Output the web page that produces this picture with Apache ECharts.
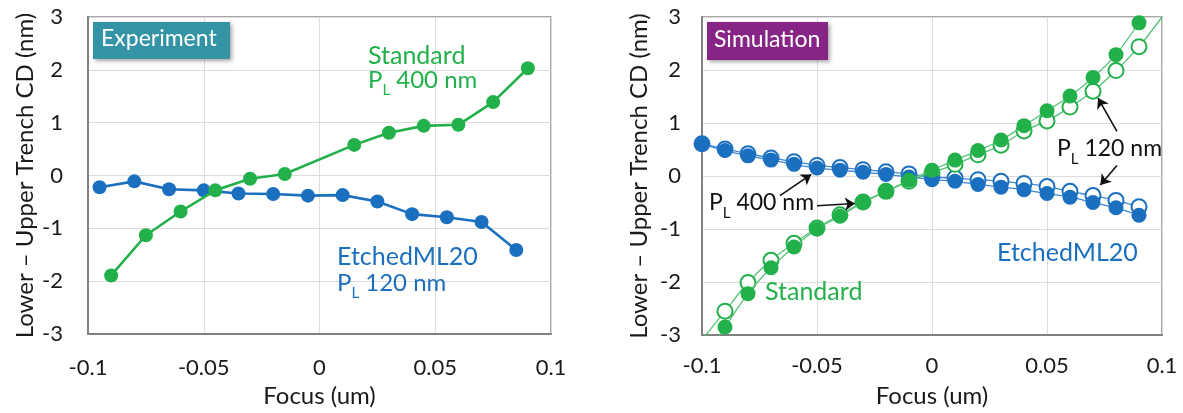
<!DOCTYPE html>
<html>
<head>
<meta charset="utf-8">
<script src="https://cdn.jsdelivr.net/npm/echarts@6/dist/echarts.min.js"></script>
<style>
html,body{margin:0;padding:0;background:#fff;}
#chart{width:1183px;height:413px;}
</style>
</head>
<body>
<div id="chart"></div>
<script>
// ---------- Data ----------
// Experiment panel
const expStdFocus = [-0.09, -0.075, -0.06, -0.045, -0.03, -0.015, 0.015, 0.03, 0.045, 0.06, 0.075, 0.09];
const expStdCD    = [-1.89, -1.13, -0.68, -0.28, -0.06, 0.03, 0.58, 0.81, 0.94, 0.96, 1.39, 2.03];
const expEtchFocus = [-0.095, -0.08, -0.065, -0.05, -0.035, -0.02, -0.005, 0.01, 0.025, 0.04, 0.055, 0.07, 0.085];
const expEtchCD    = [-0.22, -0.11, -0.26, -0.28, -0.34, -0.35, -0.38, -0.37, -0.49, -0.73, -0.79, -0.88, -1.41];

// Simulation panel
const simEtchFocus = [-0.1, -0.09, -0.08, -0.07, -0.06, -0.05, -0.04, -0.03, -0.02, -0.01, 0, 0.01, 0.02, 0.03, 0.04, 0.05, 0.06, 0.07, 0.08, 0.09];
const simEtch400 = [0.60, 0.48, 0.38, 0.30, 0.22, 0.15, 0.11, 0.07, 0.03, -0.02, -0.07, -0.10, -0.16, -0.21, -0.26, -0.33, -0.40, -0.50, -0.60, -0.74];
const simEtch120 = [0.61, 0.51, 0.42, 0.34, 0.27, 0.20, 0.16, 0.12, 0.08, 0.04, -0.02, -0.04, -0.07, -0.10, -0.14, -0.20, -0.29, -0.37, -0.46, -0.58];
const simStdFocus = [-0.09, -0.08, -0.07, -0.06, -0.05, -0.04, -0.03, -0.02, -0.01, 0, 0.01, 0.02, 0.03, 0.04, 0.05, 0.06, 0.07, 0.08, 0.09];
const simStd400 = [-2.85, -2.22, -1.73, -1.34, -1.00, -0.76, -0.50, -0.29, -0.08, 0.11, 0.30, 0.48, 0.68, 0.95, 1.23, 1.51, 1.86, 2.29, 2.89];
const simStd120 = [-2.55, -2.01, -1.59, -1.27, -0.98, -0.73, -0.49, -0.29, -0.10, 0.06, 0.22, 0.40, 0.58, 0.85, 1.04, 1.30, 1.60, 1.99, 2.44];
// fitted-curve ends that run past the plot edge
const simStd400FitEnds = [[-0.095, -3.17], [0.095, 3.2]];
const simStd120FitEnds = [[-0.1, -3.09], [0.1, 3.0]];

// Axis ticks
const xMin = -0.1, xMax = 0.1, xStep = 0.05;
const yMin = -3, yMax = 3, yStep = 1;

// ---------- Style ----------
const FONT = 'Lato';
const GREEN = '#22b04b';
const BLUE = '#1a6fbf';
const GREEN_THIN = '#55c277';
const BLUE_THIN = '#3f87d0';

function zip(xs, ys) { return xs.map((x, i) => [x, ys[i]]); }
function withEnds(pts, ends) {
  return [{value: ends[0], symbol: 'none'}].concat(pts).concat([{value: ends[1], symbol: 'none'}]);
}

function xAxis(gi, labelMargin) {
  return {
    gridIndex: gi, type: 'value', min: xMin, max: xMax, interval: xStep,
    name: 'Focus (um)', nameLocation: 'middle', nameGap: 49,
    nameTextStyle: {fontFamily: FONT, fontSize: 24, color: '#1a1a1a'},
    axisLine: {show: true, onZero: false, lineStyle: {color: '#808080', width: 2}},
    axisTick: {show: false},
    axisLabel: {fontFamily: FONT, fontSize: 22, color: '#1a1a1a', margin: labelMargin},
    splitLine: {show: true, lineStyle: {color: '#dcdcdc', width: 1}}
  };
}
function yAxis(gi, labelMargin) {
  return {
    gridIndex: gi, type: 'value', min: yMin, max: yMax, interval: yStep,
    name: 'Lower \u2013 Upper Trench CD (nm)', nameLocation: 'middle', nameGap: 51,
    nameTextStyle: {fontFamily: FONT, fontSize: 24, color: '#1a1a1a'},
    axisLine: {show: true, onZero: false, lineStyle: {color: '#808080', width: 2}},
    axisTick: {show: false},
    axisLabel: {fontFamily: FONT, fontSize: 22, color: '#1a1a1a', margin: labelMargin},
    splitLine: {show: true, lineStyle: {color: '#dcdcdc', width: 1}}
  };
}

function richLabel(main, color, size) {
  return {
    text: '{p|P}{s|L}{p| ' + main + '}',
    rich: {
      p: {fontFamily: FONT, fontSize: size, fill: color, lineHeight: 36},
      s: {fontFamily: FONT, fontSize: 15, fill: color, lineHeight: 36, verticalAlign: 'bottom'}
    }
  };
}

const arrowLine = (from, to) => [
  {coord: from, symbol: 'none'},
  {coord: to, symbol: 'arrow'}
];

const option = {
  animation: false,
  backgroundColor: '#ffffff',
  grid: [
    {left: 88, top: 17, width: 463, height: 320, show: true, borderColor: '#8c8c8c', borderWidth: 1.5, containLabel: false},
    {left: 702, top: 17, width: 460, height: 322, show: true, borderColor: '#8c8c8c', borderWidth: 1.5, containLabel: false}
  ],
  xAxis: [xAxis(0, 23), xAxis(1, 20)],
  yAxis: [yAxis(0, 25), yAxis(1, 21)],
  series: [
    // Experiment
    {type: 'line', xAxisIndex: 0, yAxisIndex: 0, data: zip(expEtchFocus, expEtchCD),
     symbol: 'circle', symbolSize: 14, itemStyle: {color: BLUE}, lineStyle: {color: BLUE, width: 2.6}, z: 3},
    {type: 'line', xAxisIndex: 0, yAxisIndex: 0, data: zip(expStdFocus, expStdCD),
     symbol: 'circle', symbolSize: 14, itemStyle: {color: GREEN}, lineStyle: {color: GREEN, width: 2.6}, z: 4},
    // Simulation: open (P_L 120 nm) drawn beneath filled (P_L 400 nm)
    {type: 'line', xAxisIndex: 1, yAxisIndex: 1, data: zip(simEtchFocus, simEtch120), smooth: 0.3,
     symbol: 'circle', symbolSize: 15, showSymbol: true,
     itemStyle: {color: '#ffffff', borderColor: BLUE, borderWidth: 2},
     lineStyle: {color: BLUE_THIN, width: 1.3}, z: 2},
    {type: 'line', xAxisIndex: 1, yAxisIndex: 1, data: withEnds(zip(simStdFocus, simStd120), simStd120FitEnds), smooth: 0.3,
     symbol: 'circle', symbolSize: 15, clip: true,
     itemStyle: {color: '#ffffff', borderColor: GREEN, borderWidth: 2},
     lineStyle: {color: GREEN_THIN, width: 1.3}, z: 2},
    {type: 'line', xAxisIndex: 1, yAxisIndex: 1, data: zip(simEtchFocus, simEtch400), smooth: 0.3,
     symbol: 'circle', symbolSize: 15,
     itemStyle: {color: BLUE}, lineStyle: {color: BLUE_THIN, width: 1.3}, z: 3,
     markLine: {
       silent: true, animation: false, symbolSize: 10,
       label: {show: false},
       lineStyle: {color: '#111', width: 1.6, type: 'solid'},
       data: [
         arrowLine([-0.0661, -0.37], [-0.0525, 0.03]),
         arrowLine([-0.050, -0.56], [-0.0335, -0.52]),
         arrowLine([0.0804, 0.84], [0.0722, 1.47]),
         arrowLine([0.0804, 0.20], [0.0732, -0.17])
       ]
     }},
    {type: 'line', xAxisIndex: 1, yAxisIndex: 1, data: withEnds(zip(simStdFocus, simStd400), simStd400FitEnds), smooth: 0.3,
     symbol: 'circle', symbolSize: 15, clip: true,
     itemStyle: {color: GREEN}, lineStyle: {color: GREEN_THIN, width: 1.3}, z: 4}
  ],
  graphic: [
    // Experiment badge
    {type: 'rect', left: 93, top: 22, shape: {width: 137, height: 37},
     style: {fill: '#3494a6', shadowBlur: 4, shadowOffsetX: 2, shadowOffsetY: 2, shadowColor: 'rgba(0,0,0,0.35)'}, z: 10},
    {type: 'text', left: 101, top: 27, style: {text: 'Experiment', fontFamily: FONT, fontSize: 23, fill: '#ffffff'}, z: 11},
    // Simulation badge
    {type: 'rect', left: 707, top: 22, shape: {width: 121, height: 38},
     style: {fill: '#862586', shadowBlur: 4, shadowOffsetX: 2, shadowOffsetY: 2, shadowColor: 'rgba(0,0,0,0.35)'}, z: 10},
    {type: 'text', left: 714, top: 28, style: {text: 'Simulation', fontFamily: FONT, fontSize: 23, fill: '#ffffff'}, z: 11},
    // Experiment labels
    {type: 'text', left: 368, top: 43, style: {text: 'Standard', fontFamily: FONT, fontSize: 25, fill: GREEN}, z: 11},
    {type: 'text', left: 368, top: 68, style: richLabel('400 nm', GREEN, 24), z: 11},
    {type: 'text', left: 337, top: 244, style: {text: 'EtchedML20', fontFamily: FONT, fontSize: 25, fill: BLUE}, z: 11},
    {type: 'text', left: 337, top: 271, style: richLabel('120 nm', BLUE, 24), z: 11},
    // Simulation labels
    {type: 'text', left: 1057, top: 137, style: richLabel('120 nm', '#111111', 23), z: 11},
    {type: 'text', left: 709, top: 191, style: richLabel('400 nm', '#111111', 23), z: 11},
    {type: 'text', left: 997, top: 240, style: {text: 'EtchedML20', fontFamily: FONT, fontSize: 25, fill: BLUE}, z: 11},
    {type: 'text', left: 765, top: 279, style: {text: 'Standard', fontFamily: FONT, fontSize: 25, fill: GREEN}, z: 11}
  ]
};

const chart = echarts.init(document.getElementById('chart'), null, {renderer: 'canvas'});
chart.setOption(option);
</script>
</body>
</html>
